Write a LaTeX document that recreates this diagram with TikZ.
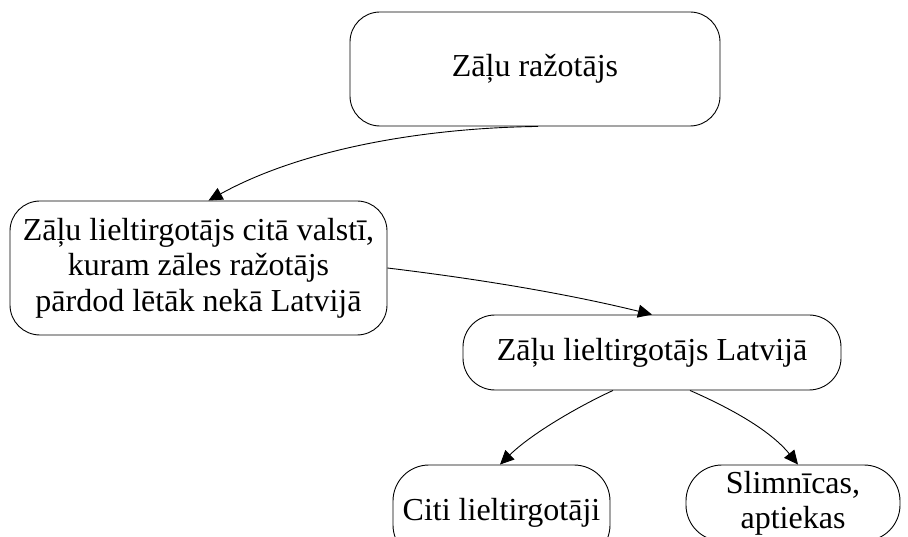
\documentclass[tikz,border=0pt]{standalone}
\usepackage{fontspec}
\setmainfont{Liberation Serif}
\usetikzlibrary{arrows.meta}
\begin{document}
\begin{tikzpicture}[x=1pt,y=-1pt,
  box/.style={draw, line width=0.9pt, inner sep=0pt, align=center,
    font=\fontsize{32}{35.5}\selectfont},
  conn/.style={line width=0.9pt, -{Triangle[length=14pt,width=13pt]}}]
\useasboundingbox (0,0) rectangle (908,537);
\clip (0,0) rectangle (908,537);
\node[box, rounded corners=30pt, minimum width=370pt, minimum height=114pt] (n1) at (535,69) {Zāļu ražotājs};
\node[box, rounded corners=30pt, minimum width=377pt, minimum height=134pt] (n2) at (198.5,268) {Zāļu lieltirgotājs citā valstī,\\kuram zāles ražotājs\\pārdod lētāk nekā Latvijā};
\node[box, rounded corners=32pt, minimum width=378pt, minimum height=75pt] (n3) at (652,352.5) {Zāļu lieltirgotājs Latvijā};
\node[box, rounded corners=36pt, minimum width=217pt, minimum height=96pt] (n4) at (501.5,513) {Citi lieltirgotāji};
\node[box, rounded corners=36pt, minimum width=214pt, minimum height=76pt, font=\fontsize{32}{35}\selectfont] (n5) at (793,503) {Slimnīcas,\\aptiekas};
\draw[conn] ([xshift=3pt]n1.south) .. controls (420,128) and (300,150) .. ([xshift=10pt]n2.north);
\draw[conn] (n2.east) .. controls (470,278) and (560,292) .. (n3.north);
\draw[conn] ([xshift=-39pt]n3.south) .. controls (575,408) and (530,435) .. ([xshift=-1.5pt]n4.north);
\draw[conn] ([xshift=38pt]n3.south) .. controls (730,408) and (770,430) .. ([xshift=5pt]n5.north);
\end{tikzpicture}
\end{document}
